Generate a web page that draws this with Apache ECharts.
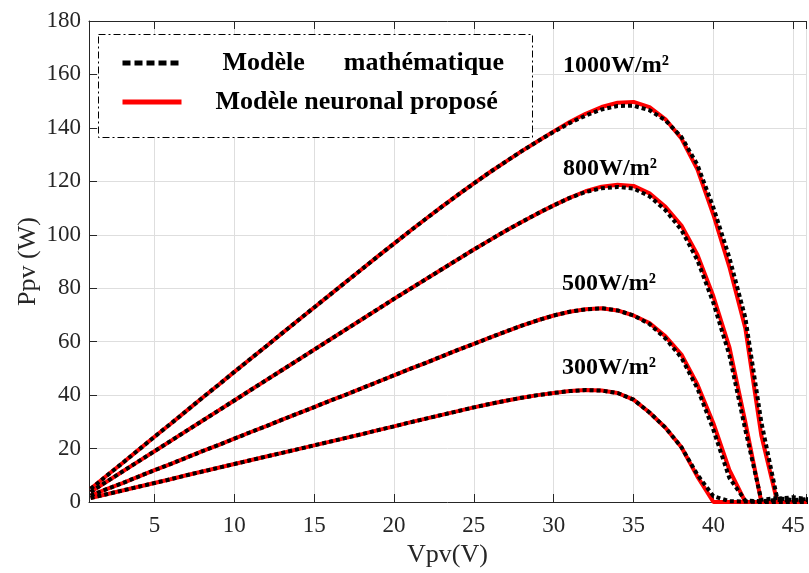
<!DOCTYPE html>
<html>
<head>
<meta charset="utf-8">
<script src="https://cdn.jsdelivr.net/npm/echarts@6/dist/echarts.min.js"></script>
<style>html,body{margin:0;padding:0;background:#fff}#c{width:809px;height:573px}</style>
</head>
<body>
<div id="c"></div>
<script>
const voltage = [1,2,3,4,5,6,7,8,9,10,11,12,13,14,15,16,17,18,19,20,21,22,23,24,25,26,27,28,29,30,31,32,33,34,35,36,37,38,39,40,41,42,43,44,45,46];

const neural1000 = [4.9,9.8,14.6,19.5,24.4,29.2,34.1,39.0,43.8,48.7,53.5,58.3,63.2,68.0,72.8,77.6,82.4,87.2,92.0,96.7,101.4,106.0,110.5,114.9,119.2,123.4,127.4,131.3,135.0,138.7,142.2,145.3,147.8,149.4,149.7,147.8,143.2,136.0,124.5,107.5,88.0,65.0,25.0,0,0,0];
const math1000   = [4.9,9.8,14.6,19.5,24.4,29.2,34.1,39.0,43.8,48.7,53.5,58.3,63.2,68.0,72.8,77.6,82.4,87.2,92.0,96.7,101.4,106.0,110.5,114.9,119.2,123.4,127.4,131.3,135.0,138.5,141.8,144.6,146.9,148.2,148.3,146.6,142.8,136.6,126.2,110.2,91.5,69.0,30.0,1.2,1.8,1.0];

const neural800 = [3.8,7.6,11.4,15.2,19.0,22.8,26.6,30.4,34.2,38.0,41.8,45.6,49.4,53.2,57.0,60.8,64.6,68.4,72.2,76.0,79.7,83.4,87.1,90.8,94.5,98.0,101.5,104.8,108.0,111.0,113.8,116.3,118.0,118.7,118.3,115.5,110.5,103.5,92.5,77.0,58.0,30.0,0,0,0,0];
const math800   = [3.8,7.6,11.4,15.2,19.0,22.8,26.6,30.4,34.2,38.0,41.8,45.6,49.4,53.2,57.0,60.8,64.6,68.4,72.2,76.0,79.7,83.4,87.1,90.8,94.5,98.0,101.5,104.8,108.0,111.0,113.8,116.0,117.4,117.9,117.3,114.4,109.2,101.8,90.5,74.5,55.0,27.0,0.8,1.5,0.7,1.2];

const neural500 = [2.4,4.8,7.1,9.5,11.9,14.2,16.6,19.0,21.3,23.7,26.1,28.4,30.8,33.2,35.5,37.9,40.2,42.6,45.0,47.4,49.8,52.1,54.5,56.9,59.2,61.5,63.8,66.0,68.0,69.8,71.2,72.1,72.5,71.7,69.8,67.0,62.0,55.2,44.0,29.5,12.0,0,0,0,0,0];
const math500   = [2.4,4.8,7.1,9.5,11.9,14.2,16.6,19.0,21.3,23.7,26.1,28.4,30.8,33.2,35.5,37.9,40.2,42.6,45.0,47.4,49.8,52.1,54.5,56.9,59.2,61.5,63.8,66.0,68.0,69.8,71.2,72.1,72.5,71.7,69.8,66.6,61.2,54.0,42.5,27.0,9.0,0.5,0.3,0.8,0.5,0.8];

const neural300 = [1.5,2.9,4.3,5.7,7.1,8.5,10.0,11.4,12.8,14.2,15.6,17.0,18.4,19.8,21.2,22.6,24.0,25.4,26.9,28.3,29.8,31.2,32.6,34.0,35.4,36.7,37.9,39.0,40.0,40.8,41.5,41.9,41.7,40.8,38.3,33.5,27.8,20.5,9.5,0,0,0,0,0,0,0];
const math300   = [1.5,2.9,4.3,5.7,7.1,8.5,10.0,11.4,12.8,14.2,15.6,17.0,18.4,19.8,21.2,22.6,24.0,25.4,26.9,28.3,29.8,31.2,32.6,34.0,35.4,36.7,37.9,39.0,40.0,40.8,41.5,41.9,41.7,40.8,38.3,33.5,27.8,20.5,10.2,2.2,0.3,0.2,0,0,0,0];

const curveLabels = ['1000W/m²','800W/m²','500W/m²','300W/m²'];
const yTicks = [0,20,40,60,80,100,120,140,160,180];
const nameMath = 'Modèle mathématique';
const nameNeural = 'Modèle neuronal proposé';

const FONT = 'Liberation Serif';
const AX = '#262626';

function pairs(ys){ return voltage.map((v,i)=>[v, ys[i]]); }

const neuralSets = [neural1000, neural800, neural500, neural300];
const mathSets = [math1000, math800, math500, math300];

const series = [];
neuralSets.forEach(d => series.push({
  name: nameNeural, type:'line', data: pairs(d), symbol:'none', animation:false,
  lineStyle:{color:'#ff0000', width:4}, itemStyle:{color:'#ff0000'}, z:2
}));
mathSets.forEach(d => series.push({
  name: nameMath, type:'line', data: pairs(d), symbol:'none', animation:false,
  lineStyle:{color:'#000000', width:4, type:[4,3], cap:'butt'}, itemStyle:{color:'#000'}, z:3
}));

const labelPos = [[563,66],[563,169],[562,284],[562,368]];

const chart = echarts.init(document.getElementById('c'), null, {renderer:'canvas'});
chart.setOption({
  backgroundColor:'#fff',
  animation:false,
  grid:{left:89, top:21, width:728, height:484, containLabel:false},
  xAxis:[{
    type:'value', min:0.9, max:45.8, minInterval:5, maxInterval:5,
    name:'Vpv(V)', nameLocation:'middle', nameGap:40,
    nameTextStyle:{fontFamily:FONT, fontSize:26, color:AX},
    axisLine:{show:true, lineStyle:{color:AX, width:1}},
    axisTick:{show:true, inside:true, length:8, lineStyle:{color:AX}},
    axisLabel:{fontFamily:FONT, fontSize:23, color:AX, margin:12,
      formatter: v => (Math.abs(v/5 - Math.round(v/5)) < 1e-6 ? String(Math.round(v)) : '')},
    splitLine:{show:true, lineStyle:{color:'#dedede', width:1}}
  },{
    type:'value', position:'top', min:0.9, max:45.8, minInterval:5, maxInterval:5,
    axisLine:{show:true, lineStyle:{color:AX, width:1}},
    axisTick:{show:true, inside:true, length:8, lineStyle:{color:AX}},
    axisLabel:{show:false}, splitLine:{show:false}
  }],
  yAxis:[{
    type:'value', min:yTicks[0], max:yTicks[yTicks.length-1], interval:20,
    name:'Ppv (W)', nameLocation:'middle', nameGap:48, nameMoveOverlap:false,
    nameTextStyle:{fontFamily:FONT, fontSize:26, color:AX},
    axisLine:{show:true, lineStyle:{color:AX, width:1}},
    axisTick:{show:true, inside:true, length:8, lineStyle:{color:AX}},
    axisLabel:{fontFamily:FONT, fontSize:23, color:AX, margin:8},
    splitLine:{show:true, lineStyle:{color:'#dedede', width:1}}
  }],
  legend:[{
    data:[{name:nameMath, lineStyle:{type:[8,4], width:5, color:'#000'}, itemStyle:{opacity:0}}],
    left:120, top:48, padding:0, itemWidth:58, itemHeight:14, z:20, selectedMode:false,
    formatter: () => 'Modèle      mathématique',
    textStyle:{fontFamily:FONT, fontSize:26, fontWeight:'bold', color:'#000', lineHeight:30, padding:[0,0,0,37]}
  },{
    data:[{name:nameNeural, lineStyle:{width:5, color:'#ff0000'}, itemStyle:{opacity:0}}],
    left:120, top:87, padding:0, itemWidth:59, itemHeight:14, z:20, selectedMode:false,
    textStyle:{fontFamily:FONT, fontSize:26, fontWeight:'bold', color:'#000', lineHeight:30, padding:[0,0,0,29]}
  }],
  graphic:[
    {type:'rect', z:10, shape:{x:98.5, y:34.5, width:434, height:103},
     style:{fill:'#fff', stroke:'#000', lineWidth:1, lineDash:[7,3,2,3]}},
    ...curveLabels.map((t,i)=>({type:'text', z:10, x:labelPos[i][0], y:labelPos[i][1],
      style:{text:t, fontFamily:FONT, fontSize:24, fontWeight:'bold', fill:'#000', textVerticalAlign:'middle', verticalAlign:'middle'}}))
  ],
  series: series
});
</script>
</body>
</html>
